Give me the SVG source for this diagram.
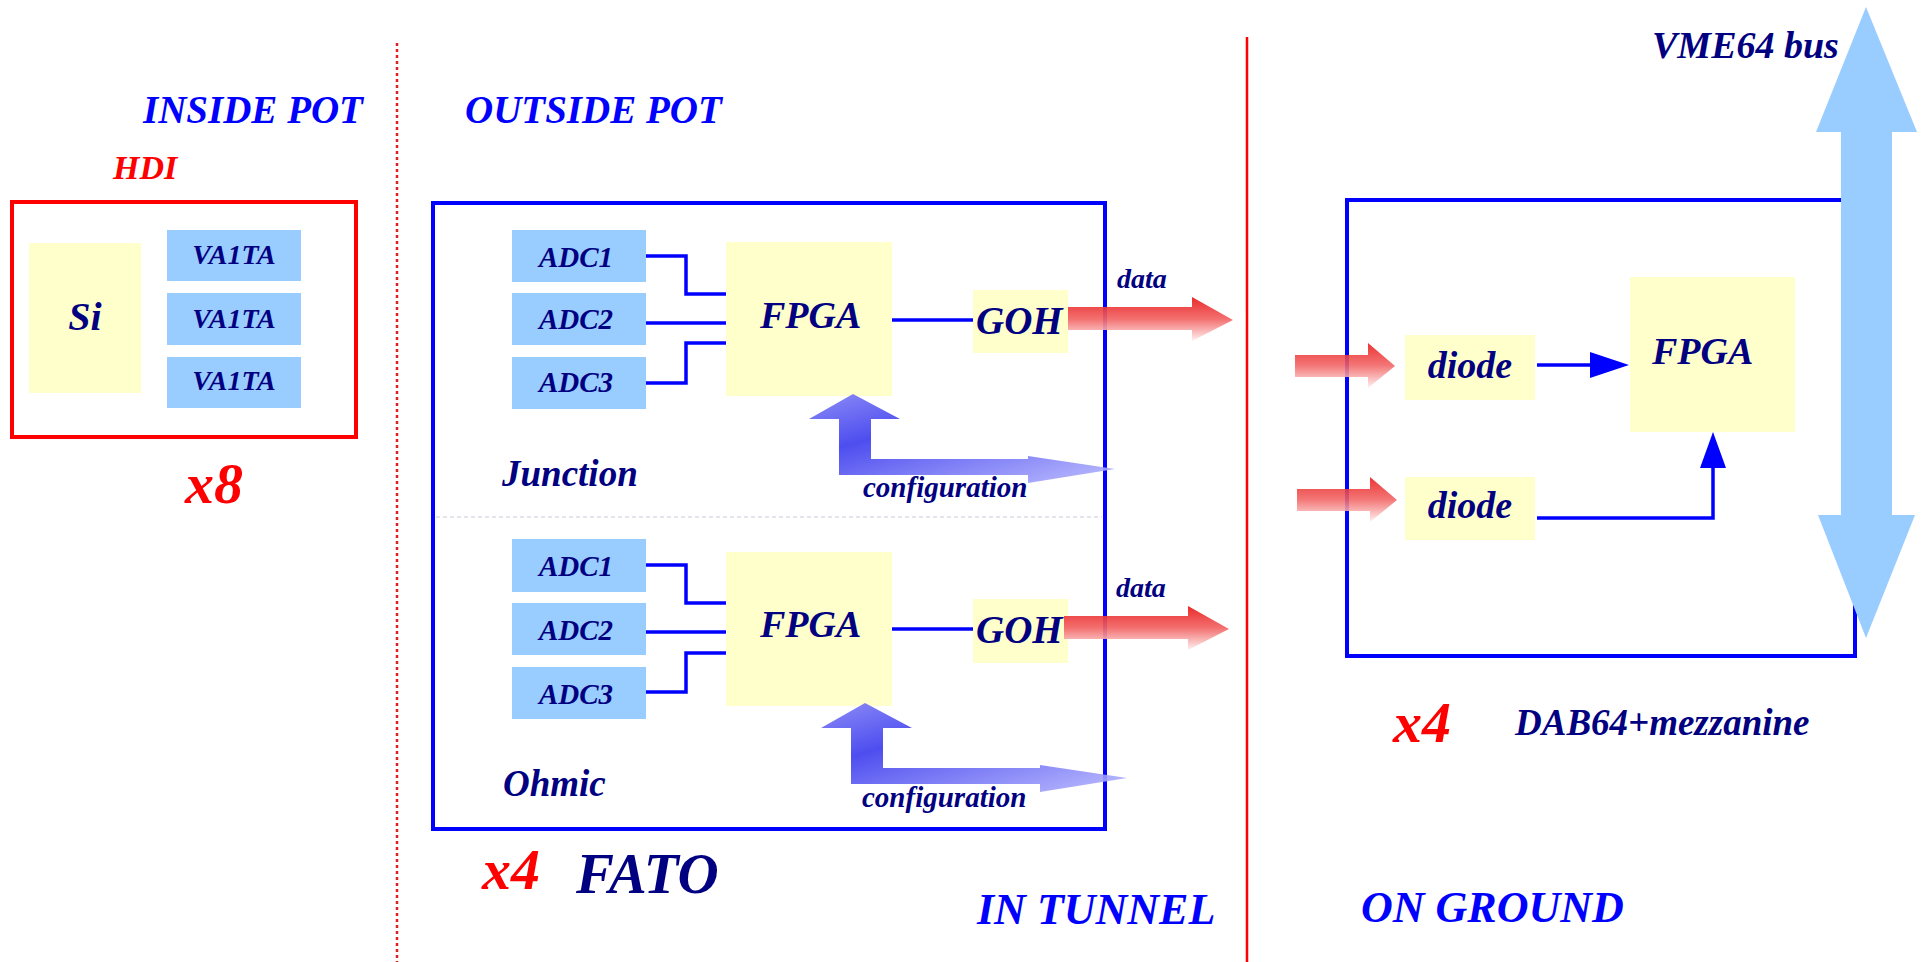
<svg xmlns="http://www.w3.org/2000/svg" width="1924" height="962" viewBox="0 0 1924 962">
<style>
text{font-family:"Liberation Serif","Times New Roman",serif;font-weight:bold;font-style:italic}
.hd{fill:#0000FF;font-size:39px}
.hd2{fill:#0000FF;font-size:44px}
.nv{fill:#000080}
.red{fill:#FF0000}
.yel{fill:#FFFFCC}
.lb{fill:#99CCFF}
.frame{fill:none;stroke:#0000FF;stroke-width:4}
.wire{fill:none;stroke:#0000FF;stroke-width:3.5}
.c{text-anchor:middle}
</style>
<defs>
<linearGradient id="redg" x1="0" y1="0" x2="0" y2="1">
<stop offset="0" stop-color="#E81818"/>
<stop offset="0.5" stop-color="#F26464"/>
<stop offset="1" stop-color="#FFF0F0"/>
</linearGradient>
<linearGradient id="blueg" x1="0" y1="0" x2="1" y2="1">
<stop offset="0" stop-color="#8080F6"/>
<stop offset="0.35" stop-color="#3A3AEE"/>
<stop offset="1" stop-color="#B8B8FF"/>
</linearGradient>
<path id="cfg" d="M853,394 L900,419 L871,419 L871,459 L1028,459 L1028,456 L1115,469 L1028,483 L1028,475 L839,475 L839,419 L809,419 Z"/>
<path id="dat" d="M1068,307 L1192,307 L1192,297 L1233,320 L1192,341 L1192,330 L1068,330 Z"/>
<path id="inp" d="M0,-11 L73,-11 L73,-23 L100,0 L73,22 L73,11 L0,11 Z"/>
</defs>
<rect width="1924" height="962" fill="#FFFFFF"/>

<g id="dividers">
<line x1="397" y1="43" x2="397" y2="962" stroke="#E02020" stroke-width="2.5" stroke-dasharray="3,3"/>
<line x1="1247" y1="37" x2="1247" y2="962" stroke="#FF0000" stroke-width="2.5"/>
</g>

<g id="headings">
<text class="hd" x="143" y="123">INSIDE POT</text>
<text class="hd" x="465" y="123">OUTSIDE POT</text>
<text class="hd2" x="977" y="924">IN TUNNEL</text>
<text class="hd2" x="1361" y="922">ON GROUND</text>
</g>

<g id="hdi">
<text class="red" x="113" y="179" font-size="34">HDI</text>
<rect x="12" y="202" width="344" height="235" fill="none" stroke="#FF0000" stroke-width="4"/>
<text class="red" x="185" y="503" font-size="58">x8</text>
</g>
<g id="si"><rect class="yel" x="29" y="243" width="112" height="150"/><text class="nv c" x="85" y="330" font-size="40">Si</text></g>
<g id="va1ta1"><rect class="lb" x="167" y="230" width="134" height="51"/><text class="nv c" x="234" y="264" font-size="28">VA1TA</text></g>
<g id="va1ta2"><rect class="lb" x="167" y="293" width="134" height="52"/><text class="nv c" x="234" y="328" font-size="28">VA1TA</text></g>
<g id="va1ta3"><rect class="lb" x="167" y="357" width="134" height="51"/><text class="nv c" x="234" y="390" font-size="28">VA1TA</text></g>

<g id="fato">
<rect class="frame" x="433" y="203" width="672" height="626"/>
<line x1="436" y1="517" x2="1102" y2="517" stroke="#E4E4EC" stroke-width="2" stroke-dasharray="4,3"/>
<text class="nv" x="502" y="486" font-size="37">Junction</text>
<text class="nv" x="503" y="796" font-size="37">Ohmic</text>
<text class="red" x="482" y="889" font-size="58">x4</text>
<text class="nv" x="576" y="893" font-size="57">FATO</text>
</g>

<g id="adc1j"><rect class="lb" x="512" y="230" width="134" height="52"/><text class="nv c" x="576" y="267" font-size="29">ADC1</text></g>
<g id="adc2j"><rect class="lb" x="512" y="293" width="134" height="52"/><text class="nv c" x="576" y="329" font-size="29">ADC2</text></g>
<g id="adc3j"><rect class="lb" x="512" y="357" width="134" height="52"/><text class="nv c" x="576" y="392" font-size="29">ADC3</text></g>
<g id="fpgaj"><rect class="yel" x="726" y="242" width="166" height="154"/><text class="nv" x="760" y="328" font-size="38">FPGA</text></g>
<g id="gohj"><rect class="yel" x="973" y="290" width="95" height="63"/><text class="nv" x="976" y="334" font-size="39">GOH</text></g>

<g id="adc1o"><rect class="lb" x="512" y="539" width="134" height="53"/><text class="nv c" x="576" y="576" font-size="29">ADC1</text></g>
<g id="adc2o"><rect class="lb" x="512" y="603" width="134" height="52"/><text class="nv c" x="576" y="640" font-size="29">ADC2</text></g>
<g id="adc3o"><rect class="lb" x="512" y="667" width="134" height="52"/><text class="nv c" x="576" y="704" font-size="29">ADC3</text></g>
<g id="fpgao"><rect class="yel" x="726" y="552" width="166" height="154"/><text class="nv" x="760" y="637" font-size="38">FPGA</text></g>
<g id="goho"><rect class="yel" x="973" y="599" width="95" height="64"/><text class="nv" x="976" y="643" font-size="39">GOH</text></g>

<g id="dab">
<rect class="frame" x="1347" y="200" width="508" height="456"/>
<text class="red" x="1393" y="742" font-size="58">x4</text>
<text class="nv" x="1515" y="735" font-size="37">DAB64+mezzanine</text>
</g>
<g id="diode1"><rect class="yel" x="1405" y="335" width="130" height="65"/><text class="nv c" x="1470" y="378" font-size="38">diode</text></g>
<g id="diode2"><rect class="yel" x="1405" y="477" width="130" height="63"/><text class="nv c" x="1470" y="518" font-size="38">diode</text></g>
<g id="fpgag"><rect class="yel" x="1630" y="277" width="165" height="155"/><text class="nv" x="1652" y="364" font-size="38">FPGA</text></g>

<g id="vmebus">
<polygon points="1866,7 1917,132 1892,132 1892,515 1915,515 1866,638 1818,515 1841,515 1841,132 1816,132" fill="#99CCFF"/>
<text class="nv" x="1652" y="58" font-size="38">VME64 bus</text>
</g>

<g id="connectors">
<path class="wire" d="M646,256 H686 V294 H726"/>
<path class="wire" d="M646,323 H726"/>
<path class="wire" d="M646,383 H686 V343 H726"/>
<path class="wire" d="M892,320 H973"/>
<path class="wire" d="M646,565 H686 V603 H726"/>
<path class="wire" d="M646,632 H726"/>
<path class="wire" d="M646,692 H686 V653 H726"/>
<path class="wire" d="M892,629 H973"/>
<use href="#dat" fill="url(#redg)" opacity="0.92"/>
<use href="#dat" fill="url(#redg)" opacity="0.92" transform="translate(-4,309)"/>
<text class="nv" x="1117" y="288" font-size="28">data</text>
<text class="nv" x="1116" y="597" font-size="28">data</text>
<use href="#cfg" fill="url(#blueg)" opacity="0.9"/>
<use href="#cfg" fill="url(#blueg)" opacity="0.9" transform="translate(12,309)"/>
<text class="nv" x="863" y="497" font-size="29">configuration</text>
<text class="nv" x="862" y="807" font-size="29">configuration</text>
<use href="#inp" fill="url(#redg)" opacity="0.88" transform="translate(1295,366)"/>
<use href="#inp" fill="url(#redg)" opacity="0.88" transform="translate(1297,500)"/>
<path class="wire" d="M1537,365 H1592"/>
<polygon points="1590,352 1629,365 1590,378" fill="#0000FF"/>
<path class="wire" d="M1537,518 H1713 V466"/>
<polygon points="1700,468 1726,468 1713,432" fill="#0000FF"/>
</g>
</svg>
